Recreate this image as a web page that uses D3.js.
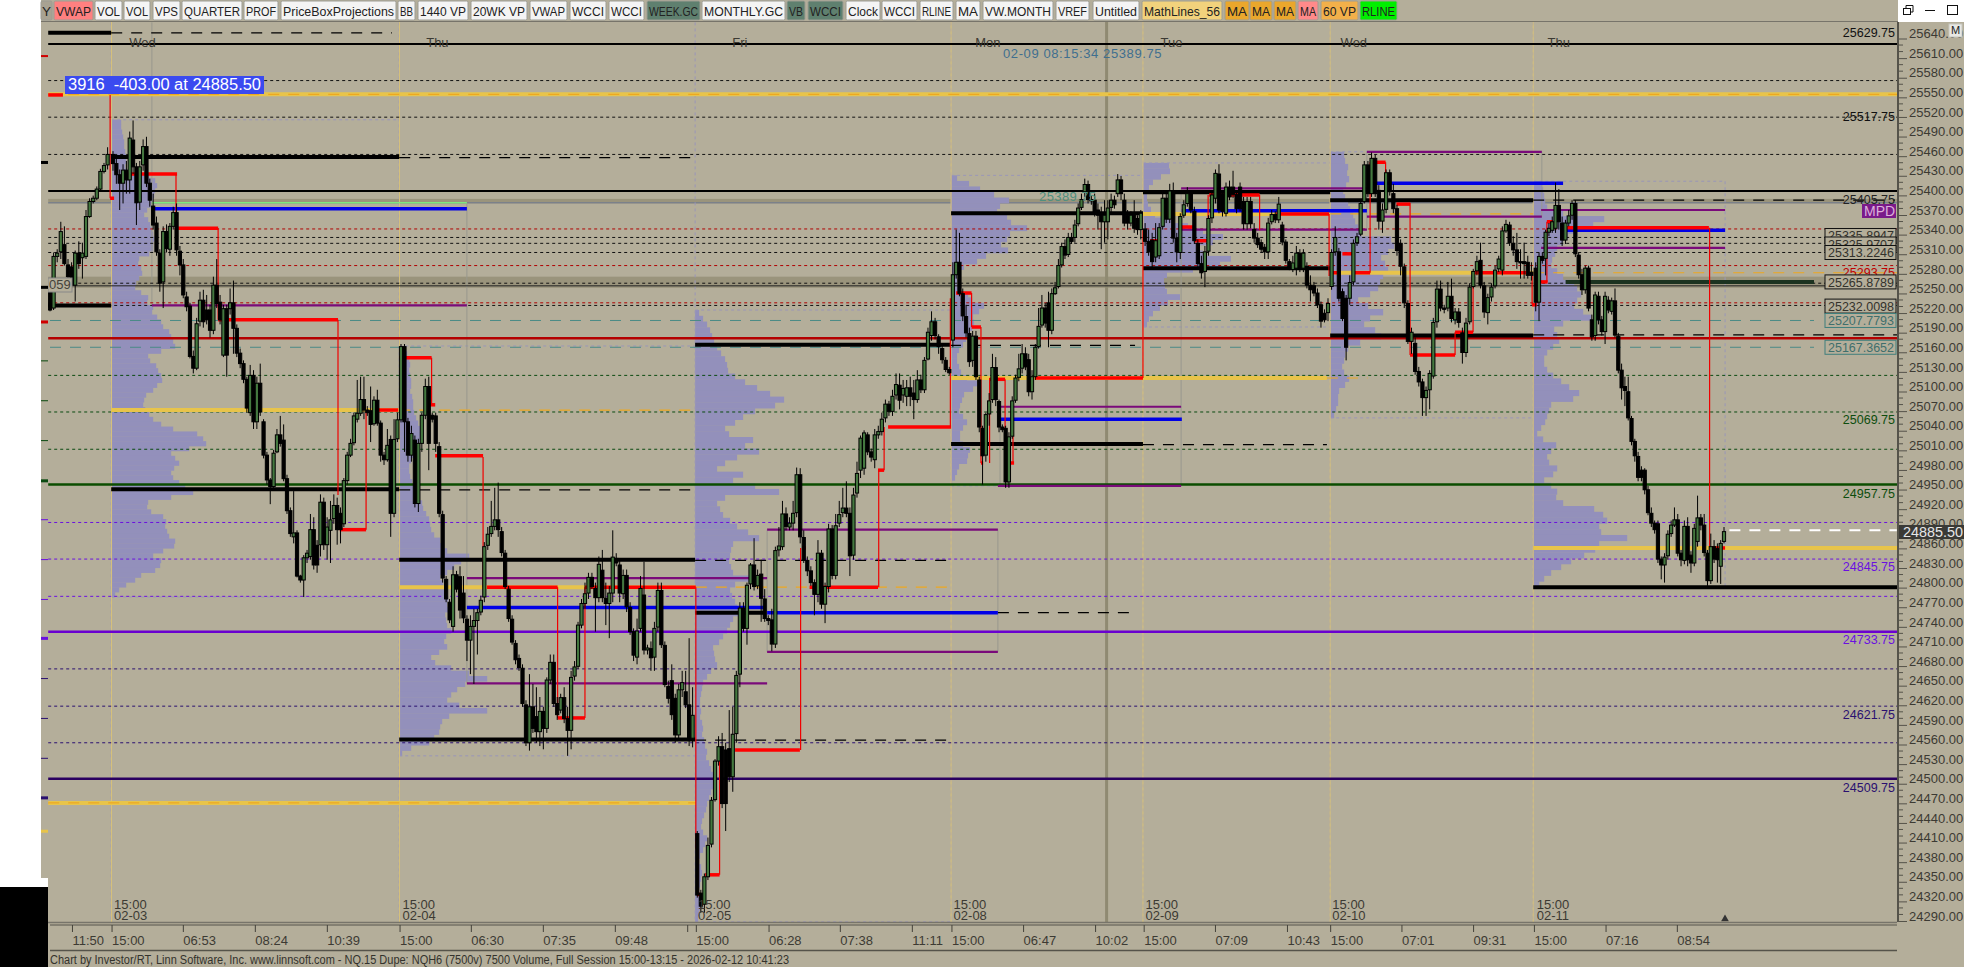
<!DOCTYPE html>
<html><head><meta charset="utf-8">
<script src="https://cdn.jsdelivr.net/npm/d3@7/dist/d3.min.js"></script>
<style>html,body{margin:0;padding:0;background:#fff;overflow:hidden}svg{display:block;font-family:"Liberation Sans",Arial,sans-serif}</style>
</head><body><svg id="c" width="1964" height="967"></svg>
<script>
// ---------- candles: [open, close, high, low], one list per session ----------
const preSession=[[25258,25217,25265,25215],[25220,25299,25305,25217],[25299,25304,25310,25290],[25306,25337,25352,25295],[25317,25288,25345,25285],[25286,25268,25295,25260],[25283,25255,25290,25250],[25255,25304,25308,25230],[25304,25288,25322,25280],[25297,25304,25320,25265],[25299,25360,25370,25295],[25360,25383,25388,25358],[25383,25388,25392,25380],[25388,25402,25406,25385],[25402,25429,25433,25400],[25429,25438,25442,25426],[25439,25455,25466,25432]];
const session0203=[[25455,25441,25460,25430],[25441,25424,25448,25410],[25424,25411,25432,25370],[25411,25431,25440,25380],[25431,25416,25445,25395],[25416,25480,25490,25395],[25477,25436,25507,25425],[25436,25381,25442,25347],[25382,25436,25445,25370],[25439,25467,25478,25430],[25467,25411,25482,25405],[25411,25385,25418,25375],[25376,25347,25395,25340],[25350,25306,25360,25300],[25304,25258,25310,25245],[25260,25337,25345,25220],[25337,25311,25348,25305],[25310,25345,25350,25300],[25345,25366,25375,25340],[25366,25309,25380,25300],[25307,25286,25315,25270],[25286,25240,25295,25235],[25237,25222,25245,25215],[25223,25146,25228,25143],[25146,25128,25155,25120],[25128,25196,25205,25125],[25200,25232,25245,25192],[25232,25199,25248,25190],[25217,25202,25240,25195],[25217,25186,25225,25175],[25186,25255,25268,25180],[25255,25227,25295,25220],[25229,25202,25240,25195],[25148,25219,25225,25145],[25219,25148,25225,25115],[25219,25228,25250,25210],[25228,25189,25262,25150],[25189,25151,25195,25145],[25151,25135,25158,25128],[25135,25111,25140,25105],[25111,25067,25115,25060],[25060,25117,25133,25055],[25117,25046,25125,25035],[25046,25105,25115,25035],[25105,25061,25135,25055],[25046,24995,25050,24990],[24995,24957,25000,24950],[24957,24947,24960,24920],[24947,24998,25003,24945],[25000,25026,25035,24998],[25026,25013,25055,25008],[25018,24959,25042,24955],[24959,24910,24965,24905],[24910,24875,24915,24870],[24870,24876,24940,24860],[24876,24810,24880,24808],[24810,24804,24812,24800],[24804,24838,24842,24778],[24838,24845,24850,24830],[24840,24881,24905,24835],[24881,24827,24900,24820],[24857,24827,24865,24815],[24858,24923,24935,24840],[24923,24858,24930,24850],[24858,24885,24900,24835],[24880,24896,24925,24830],[24898,24918,24935,24890],[24918,24881,24930,24858],[24906,24881,24915,24860],[24890,24956,24960,24885],[24956,24995,25000,24950],[24995,25013,25020,24992],[25014,25055,25060,25010],[25050,25059,25110,25045],[25059,25080,25115,25055],[25080,25064,25115,25050],[25064,25060,25070,25055],[25063,25042,25100,25015],[25043,25079,25085,25040],[25079,25044,25095,25040],[25044,24995,25048,24985],[24995,24988,25000,24980],[24988,25010,25035,24985],[25019,24906,25025,24870],[24906,25019,25050,24900],[25020,25049,25060,25015]];
const session0204=[[25049,25161,25165,25045],[25161,25046,25165,25000],[25046,24995,25052,24985],[24995,25028,25040,24985],[25018,24921,25025,24915],[24921,25013,25020,24908],[25013,25056,25060,25000],[25056,25100,25112,25050],[25100,25013,25115,24972],[25056,25050,25060,25045],[25055,25013,25060,25000],[25008,24906,25015,24900],[24904,24807,24910,24800],[24805,24775,24810,24770],[24770,24743,24775,24738],[24733,24812,24825,24725],[24812,24790,24818,24785],[24809,24758,24825,24745],[24784,24746,24810,24738],[24744,24712,24750,24680],[24712,24733,24750,24660],[24733,24742,24760,24645],[24742,24754,24760,24690],[24755,24773,24780,24750],[24778,24855,24862,24770],[24857,24874,24885,24850],[24875,24886,24925,24870],[24886,24896,24945,24880],[24896,24881,24953,24870],[24878,24846,24885,24840],[24845,24794,24850,24790],[24790,24745,24795,24740],[24744,24709,24750,24705],[24707,24682,24712,24675],[24684,24670,24690,24665],[24669,24615,24675,24610],[24613,24555,24620,24550],[24555,24610,24660,24543],[24610,24577,24645,24570],[24595,24572,24640,24555],[24572,24603,24625,24550],[24603,24577,24610,24545],[24577,24651,24655,24570],[24651,24678,24690,24645],[24678,24615,24690,24610],[24615,24598,24625,24590],[24605,24624,24630,24600],[24624,24592,24640,24585],[24592,24574,24610,24535],[24574,24655,24665,24545],[24657,24671,24680,24650],[24672,24735,24740,24668],[24735,24768,24775,24730],[24768,24783,24800,24760],[24784,24808,24815,24775],[24808,24794,24815,24790],[24791,24777,24800,24725],[24777,24828,24840,24770],[24819,24777,24850,24770],[24776,24768,24800,24735],[24768,24784,24795,24715],[24784,24839,24880,24770],[24837,24830,24845,24825],[24827,24784,24835,24770],[24783,24811,24820,24775],[24811,24763,24820,24755],[24762,24725,24770,24720],[24725,24689,24730,24680],[24686,24726,24745,24675],[24730,24791,24810,24725],[24781,24697,24832,24690],[24697,24700,24705,24690],[24699,24685,24710,24665],[24686,24730,24740,24665],[24732,24788,24800,24725],[24788,24705,24800,24700],[24704,24644,24710,24640],[24641,24623,24650,24615],[24650,24598,24675,24590],[24623,24567,24630,24555],[24567,24636,24645,24560],[24636,24647,24665,24625],[24633,24613,24665,24608],[24613,24562,24715,24550],[24562,24597,24640,24548]];
const session0205=[[24416,24322,24420,24318],[24325,24305,24330,24295],[24308,24350,24355,24295],[24350,24398,24410,24345],[24400,24467,24472,24395],[24468,24527,24530,24465],[24527,24549,24565,24520],[24549,24462,24570,24455],[24544,24462,24555,24420],[24546,24503,24605,24495],[24503,24568,24610,24480],[24569,24658,24665,24555],[24660,24761,24770,24640],[24761,24730,24770,24725],[24730,24796,24800,24705],[24798,24827,24830,24790],[24827,24794,24868,24788],[24795,24811,24820,24790],[24813,24776,24835,24740],[24775,24745,24790,24740],[24745,24742,24750,24735],[24743,24706,24760,24695],[24706,24849,24855,24700],[24850,24856,24885,24840],[24855,24905,24925,24850],[24905,24886,24915,24880],[24885,24891,24900,24880],[24891,24906,24925,24880],[24907,24965,24976,24900],[24965,24870,24975,24860],[24869,24834,24880,24830],[24834,24818,24840,24810],[24818,24800,24825,24795],[24800,24782,24805,24750],[24782,24845,24865,24770],[24845,24767,24850,24760],[24767,24794,24800,24738],[24794,24882,24890,24785],[24882,24811,24888,24805],[24811,24887,24905,24805],[24891,24904,24925,24885],[24907,24914,24945,24900],[24914,24906,24955,24900],[24906,24841,24915,24810],[24842,24934,24945,24835],[24937,24967,24985,24930],[24972,25021,25025,24960],[24975,25029,25033,24965],[25026,25000,25030,24995],[25000,24992,25005,24985],[24988,25026,25035,24975],[25026,25031,25040,25020],[25031,25050,25060,25025],[25052,25073,25080,25045],[25073,25062,25078,25055],[25062,25085,25095,25055],[25087,25103,25120,25080],[25102,25079,25120,25065],[25087,25097,25110,25075],[25085,25098,25110,25070],[25098,25085,25115,25070],[25090,25080,25110,25050],[25080,25110,25125,25075],[25110,25095,25118,25090],[25095,25140,25145,25090],[25142,25183,25190,25140],[25178,25199,25215,25170],[25199,25178,25205,25172],[25176,25161,25180,25150],[25158,25141,25165,25135],[25140,25126,25145,25122],[25126,25121,25130,25118]];
const session0208=[[25171,25271,25290,25160],[25271,25290,25340,25265],[25290,25242,25335,25238],[25242,25208,25250,25200],[25207,25182,25225,25175],[25181,25138,25190,25130],[25140,25177,25185,25130],[25177,25115,25185,25110],[25110,25038,25115,25030],[25036,24994,25040,24950],[24995,25057,25060,24985],[25058,25078,25090,25040],[25080,25129,25150,25075],[25129,25080,25145,25070],[25077,25038,25080,25030],[25038,25034,25042,25030],[25036,24954,25040,24945],[24954,25023,25030,24945],[25024,25078,25085,25020],[25079,25113,25118,25075],[25114,25127,25150,25108],[25128,25150,25165,25120],[25150,25130,25160,25125],[25141,25092,25150,25085],[25092,25115,25125,25080],[25115,25160,25165,25110],[25161,25192,25220,25158],[25194,25220,25240,25190],[25220,25197,25228,25190],[25228,25186,25245,25160],[25186,25242,25250,25180],[25242,25251,25260,25240],[25253,25285,25295,25250],[25286,25314,25320,25282],[25314,25301,25325,25295],[25302,25328,25335,25298],[25328,25322,25335,25318],[25328,25347,25355,25320],[25349,25373,25380,25345],[25374,25386,25395,25370],[25398,25409,25418,25390],[25409,25386,25415,25380],[25386,25384,25392,25378],[25385,25367,25395,25360],[25370,25362,25380,25340],[25365,25352,25375,25310],[25352,25362,25385,25320],[25352,25373,25385,25325],[25374,25385,25395,25365],[25385,25378,25392,25372],[25395,25416,25425,25390],[25416,25395,25422,25385],[25385,25350,25395,25345],[25362,25350,25370,25340],[25350,25362,25368,25345],[25365,25342,25385,25335],[25357,25340,25362,25332],[25340,25365,25370,25325]];
const session0209=[[25341,25322,25350,25315],[25322,25306,25340,25300],[25324,25291,25335,25282],[25298,25323,25350,25290],[25300,25343,25350,25295],[25345,25388,25395,25340],[25388,25356,25395,25350],[25356,25399,25410,25350],[25398,25327,25412,25320],[25327,25306,25335,25290],[25305,25360,25365,25295],[25362,25378,25385,25358],[25380,25395,25405,25375],[25395,25370,25400,25365],[25368,25323,25375,25318],[25319,25288,25325,25280],[25288,25274,25300,25265],[25276,25306,25315,25252],[25307,25357,25362,25300],[25358,25393,25400,25350],[25388,25426,25432,25380],[25425,25370,25440,25365],[25395,25368,25400,25360],[25365,25405,25412,25360],[25405,25390,25415,25385],[25405,25394,25430,25388],[25394,25372,25400,25365],[25405,25372,25412,25368],[25383,25349,25390,25340],[25349,25383,25390,25340],[25383,25349,25390,25342],[25340,25327,25350,25320],[25327,25317,25335,25312],[25320,25310,25325,25305],[25313,25306,25318,25295],[25306,25350,25358,25295],[25352,25363,25370,25348],[25363,25355,25368,25350],[25355,25379,25390,25350],[25347,25321,25352,25316],[25321,25293,25325,25288],[25291,25283,25295,25278],[25279,25289,25300,25275],[25281,25304,25315,25270],[25304,25281,25310,25275],[25281,25304,25310,25275],[25284,25255,25290,25250],[25255,25248,25270,25230],[25254,25243,25260,25238],[25243,25225,25250,25220],[25225,25200,25230,25190],[25212,25202,25218,25198],[25213,25227,25235,25200]];
const session0210=[[25253,25305,25310,25248],[25306,25328,25345,25300],[25306,25235,25312,25230],[25245,25204,25250,25200],[25235,25160,25240,25140],[25235,25259,25270,25225],[25260,25319,25325,25255],[25320,25329,25335,25315],[25333,25380,25385,25330],[25383,25439,25445,25380],[25439,25395,25445,25390],[25395,25449,25458,25390],[25449,25395,25455,25390],[25400,25353,25408,25340],[25353,25370,25380,25335],[25371,25427,25432,25365],[25427,25398,25432,25392],[25395,25372,25410,25365],[25372,25308,25378,25300],[25319,25284,25325,25270],[25283,25228,25288,25220],[25227,25169,25232,25165],[25169,25183,25190,25150],[25166,25123,25175,25118],[25123,25107,25130,25100],[25107,25083,25112,25055],[25083,25094,25100,25055],[25095,25120,25125,25065],[25116,25198,25205,25112],[25199,25249,25262,25190],[25249,25220,25262,25215],[25220,25218,25225,25212],[25220,25238,25260,25215],[25238,25204,25265,25198],[25202,25214,25220,25195],[25214,25198,25220,25190],[25182,25152,25190,25135],[25152,25197,25205,25145],[25199,25252,25258,25195],[25253,25276,25280,25250],[25277,25291,25300,25270],[25293,25255,25320,25250],[25254,25214,25260,25205],[25213,25236,25242,25195],[25237,25252,25258,25230],[25254,25278,25285,25250],[25280,25295,25300,25275],[25278,25338,25345,25270],[25338,25348,25355,25335],[25347,25320,25352,25315],[25319,25309,25330,25300],[25309,25291,25335,25280],[25291,25289,25310,25265],[25291,25288,25320,25265],[25290,25270,25300,25265],[25275,25270,25290,25262]];
const session0211=[[25281,25229,25290,25215],[25229,25299,25305,25200],[25299,25293,25305,25288],[25296,25336,25340,25270],[25336,25342,25350,25330],[25339,25352,25360,25335],[25342,25377,25412,25335],[25377,25352,25402,25340],[25350,25324,25360,25315],[25324,25350,25355,25318],[25350,25361,25370,25345],[25362,25380,25385,25355],[25380,25303,25385,25298],[25301,25271,25305,25265],[25271,25248,25280,25240],[25248,25281,25285,25242],[25281,25220,25285,25215],[25202,25176,25210,25170],[25178,25240,25245,25170],[25238,25202,25245,25195],[25202,25184,25208,25178],[25184,25238,25245,25165],[25232,25217,25238,25212],[25215,25231,25236,25210],[25231,25179,25250,25175],[25177,25125,25182,25120],[25125,25098,25135,25080],[25100,25094,25115,25070],[25092,25052,25115,25048],[25051,25016,25055,25010],[25016,24994,25020,24985],[24993,24961,25000,24955],[24972,24961,24978,24955],[24972,24942,24975,24935],[24942,24907,24948,24903],[24906,24891,24915,24885],[24891,24881,24895,24875],[24890,24836,24895,24830],[24836,24827,24840,24805],[24827,24839,24845,24800],[24841,24874,24880,24835],[24875,24888,24895,24870],[24888,24896,24915,24885],[24896,24845,24905,24840],[24845,24835,24850,24825],[24834,24886,24895,24828],[24886,24835,24900,24825],[24842,24830,24848,24815],[24830,24883,24890,24825],[24863,24899,24933,24855],[24899,24888,24905,24880],[24888,24846,24905,24840],[24845,24803,24850,24795],[24803,24855,24875,24798],[24855,24836,24865,24830],[24852,24835,24860,24800],[24825,24860,24865,24798],[24863,24878,24885,24860]];
const candleSessions=[preSession,session0203,session0204,session0205,session0208,session0209,session0210,session0211];
const sessionBarSpans=[[0,16],[17.5,96.5],[97.5,178.5],[179.8,249.8],[250.8,303],[304.2,355],[356,411.5],[412.7,465]];

// ---------- session volume profiles, top price to bottom price ----------
const profileSessions=[17,97,179.2,250.3,303.6,355.6,412];
const profileRanges=[[25508,24778],[25162,24535],[25217,24281],[25423,24948],[25442,25191],[25459,25052],[25414,24793]];
const profile0203=[10,10,11,12,13,13,14,15,15,14,16,38,44,46,44,43,42,40,36,33,37,39,41,42,43,42,42,38,28,27,30,31,28,25,24,30,37,36,42,41,46,50,52,58,60,62,64,50,37,39,45,47,50,51,46,42,35,33,32,34,38,42,50,62,86,92,95,78,60,64,68,63,60,62,68,74,82,60,37,36,40,52,55,54,56,58,64,63,52,42,50,49,44,30,24,15,8,4];
const profile0204=[5,8,10,11,10,11,12,12,11,13,14,14,15,17,19,21,23,22,20,17,15,12,10,10,11,13,15,16,19,23,24,27,30,31,32,35,41,44,48,70,62,55,48,41,44,48,47,49,48,50,46,47,48,52,47,45,48,40,32,36,52,70,88,66,58,52,48,60,88,50,43,41,40,35,30,12,3];
const profile0205=[4,8,12,15,17,19,22,26,30,32,33,40,50,62,75,89,80,60,48,40,30,34,58,50,64,42,30,22,48,38,60,84,30,22,25,28,35,42,53,64,38,36,35,34,36,38,62,40,35,37,40,42,44,38,35,32,28,24,18,19,20,22,16,12,8,7,6,5,5,6,5,7,8,7,9,10,12,11,14,16,18,20,19,16,14,12,11,9,7,6,8,12,10,8,5,4,6,7,6,5,4,5,6,5,4,3];
const profile0208=[6,18,29,43,58,49,46,56,60,76,59,56,50,57,35,26,13,6,6,6,10,17,21,33,28,22,23,21,19,15,12,8,6,6,8,10,16,26,22,13,11,9,8,12,16,12,9,9,12,19,17,16,8,6,4,1];
const profile0209=[26,27,18,10,6,4,4,5,8,12,30,45,60,80,70,53,60,88,77,50,24,21,22,24,37,25,17,10,6,4];
const profile0210=[14,15,18,17,19,16,13,15,18,20,23,25,28,31,61,64,58,51,55,58,53,50,48,40,28,38,53,40,34,45,51,30,18,15,14,12,14,19,15,9,8,8,6,4];
const profile0211=[9,10,11,12,14,30,71,60,41,35,30,24,22,19,18,24,30,41,44,48,44,41,50,58,30,21,24,26,20,14,11,11,14,20,28,36,46,40,18,16,14,12,8,4,10,23,18,14,16,24,20,11,18,24,23,30,61,70,74,66,68,94,66,62,51,38,28,18,11,6];
const profiles=[profile0203,profile0204,profile0205,profile0208,profile0209,profile0210,profile0211];

// ---------- price levels ----------
const blackSolidLevels=[25624,25399];
const blackDottedLevels=[25568,25512,25455,25328,25319,25305,25258,25224];
const redDottedLevels=[25341,25285,25228];
const tealDashedLevels=[25201,25160];
const greenDottedLevels=[25117,25061,25004];
const violetDottedLevels=[24892,24836,24779];
const indigoDottedLevels=[24668,24611,24555];
// [from bar, to bar, price]
const pocThick=[[-0.5,17,25641],[17,97,25451],[-0.5,17,25224],[17,97,24943],[97,179.2,24835],[97,179.2,24560],[179.2,198.6,24754],[179.2,250,25164],[250.3,303.6,25365],[250.3,303.6,25012],[303.6,355.6,25281],[303.6,355.6,25397],[355.6,412,25385],[355.6,412,25178],[412,513.3,24793]];
const pocDashed=[[17,95,25641],[97,179,25450],[97,179.2,24942],[179.2,250,24834],[179.2,250,24559],[263.3,301.4,24754],[250,301.4,25163],[303.6,354.7,25011],[412,512.5,25385],[412,513.3,25179]];
const yellowBands=[[-0.5,513.3,25547],[-0.5,179.4,24463],[17,97,25064],[97,179.4,24793],[250.3,354.7,25113],[303.6,355.6,25364],[355.6,412,25274],[412,513.3,24853]];
const orangeDashes=[[-0.5,513.3,25547],[-0.5,179.4,24463],[97,179.2,25064],[179.4,250,24793],[354.7,366,25113],[355.6,412,25364],[412,513.3,25274]];
const purpleLevels=[[28.3,115.8,25224],[115.8,199.2,24807],[115.8,199.2,24646],[199.2,263.3,24881],[199.2,263.3,24694],[263.9,314.2,25069],[263.3,314.2,24948],[314.2,365.8,25403],[314.2,365.8,25340],[365.8,414.4,25459],[365.8,414.4,25360],[414.2,465.3,25370],[414.2,465.3,25312]];
const blueLevels=[[28.3,115.8,25372],[115.8,198.6,24762],[199.2,263.3,24754],[263.9,314.4,25050],[314.4,365.8,25369],[365.8,420.3,25411],[419.7,465.3,25339]];
const redThick=[[-0.5,3.6,25546],[16.7,17.8,25388],[21.7,35.3,25425],[35.6,46.7,25342],[46.7,80,25202],[80.5,87.8,24881],[90.5,96.7,25064],[97,106,25144],[105.6,107,25072],[107,120.3,24994],[121.4,141,24793],[141,148.6,24593],[148.6,179.4,24793],[179.4,180,24393],[179.7,180.8,24323],[182,186,24353],[190.3,208.3,24544],[208.9,210,24853],[211,230,24793],[230,231.7,24972],[232.8,250.3,25038],[251.7,256,25243],[256,258.6,25191],[258.6,259.2,24983],[261,265.3,25111],[266.4,267.8,24983],[273.6,303.6,25113],[305.6,308.3,25323],[314.2,317.5,25344],[317.8,321.7,25323],[322,336,25393],[340.6,355.3,25364],[355.6,357.5,25274],[359,362,25303],[362,366.7,25274],[366.7,371,25443],[374,377.8,25379],[377.8,390.3,25148],[390.3,395.3,25183],[395.3,410,25274],[411.7,413,25225],[414,416,25260],[415.8,417.5,25352],[420,460.8,25343],[461.7,465.3,24853]];
// [bar, price, price]
const redDrops=[[16.7,25546,25388],[35,25425,25342],[46.7,25342,25202],[80,25202,24934],[87.8,25064,24881],[106,25144,25072],[120.3,24992,24793],[141,24793,24593],[148.6,24793,24593],[179.4,24793,24393],[180,24393,24323],[186,24353,24544],[208.5,24544,24853],[230.2,24793,24972],[231.7,24972,25038],[250.1,25038,25235],[256,25243,25191],[258.6,25191,24983],[261,25113,24983],[265.3,25111,25033],[267.5,25033,24983],[303.6,25113,25339],[321.7,25323,25393],[336,25393,25339],[355.3,25364,25269],[362,25303,25274],[366.7,25274,25443],[371,25443,25381],[377.8,25381,25148],[390.3,25183,25148],[395.3,25274,25183],[411.7,25274,25225],[415.8,25352,25260],[461,25343,24855]];
const boxEdges=[[28.3,25657,25224],[115.8,25381,24646],[199.2,24881,24694],[263.3,24881,24694],[263.9,25069,24948],[314.2,25403,24948],[365.8,25459,25340],[414.4,25459,25360]];
const sessionLines=[17.1,97.1,250.3,303.6,355.6,412];

// ---------- texts ----------
const priceTicks=d3.range(25640,24289,-30);
const timeBars=[6.1,17.1,36.9,56.9,76.9,97.1,116.9,136.9,156.9,177,179.4,199.6,219.4,239.4,250.4,270.3,290.3,303.8,323.6,343.6,355.6,375.4,395.3,412.2,432.1,451.9];
const timeLabels=["11:50","15:00","06:53","08:24","10:39","15:00","06:30","07:35","09:48","","15:00","06:28","07:38","11:11","15:00","06:47","10:02","15:00","07:09","10:43","15:00","07:01","09:31","15:00","07:16","08:54"];
const dayNames=["Wed","Thu","Fri","Mon","Tue","Wed","Thu"];
const dayBars=[22,104.5,189.5,257,308.5,358.5,416];
const dateBars=[17.8,97.9,180,251,304.3,356.2,413];
const dateNames=["02-03","02-04","02-05","02-08","02-09","02-10","02-11"];
const toolbarNames=["Y","VWAP","VOL","VOL","VPS","QUARTER","PROF","PriceBoxProjections","BB","1440 VP","20WK VP","VWAP","WCCI","WCCI","WEEK.GC","MONTHLY.GC","VB","WCCI","Clock","WCCI","RLINE","MA","VW.MONTH","VREF","Untitled","MathLines_56","MA","MA","MA","MA","60 VP","RLINE"];
const toolbarEdges=[[41,52],[54,93],[95,122],[124,150],[153,180],[182,242],[244,278],[281,396],[398,415],[418,468],[471,527],[530,567],[570,606],[609,644],[647,700],[702,785],[787,805],[808,843],[846,880],[882,917],[920,953],[956,980],[983,1053],[1056,1089],[1093,1139],[1142,1222],[1225,1249],[1250,1272],[1274,1296],[1298,1318],[1321,1358],[1360,1397]];
const toolbarFills=["#a8a292","#ff8080","#f4f4f4","#f4f4f4","#f4f4f4","#f4f4f4","#f4f4f4","#f4f4f4","#f4f4f4","#f4f4f4","#f4f4f4","#f4f4f4","#f4f4f4","#f4f4f4","#5f806f","#f4f4f4","#5f806f","#5f806f","#f4f4f4","#f4f4f4","#f4f4f4","#f4f4f4","#f4f4f4","#f4f4f4","#f4f4f4","#f2d27c","#eaa72c","#eaa72c","#eaa72c","#ff8a8a","#f2b04a","#00ee00"];
const plainLevelLabels=[["25629.75",25641,"#111"],["25517.75",25513,"#111"],["25405.75",25385,"#222"],["25293.75",25274,"#c00000"],["25069.75",25048,"#0d4d0d"],["24957.75",24936,"#0d4d0d"],["24845.75",24824,"#6a10e0"],["24733.75",24712,"#6a10e0"],["24621.75",24598,"#2a1070"],["24509.75",24486,"#2a1070"]];
const boxedLevelLabels=[["25335.8947",25331,"#111"],["25325.9707",25318,"#111"],["25313.2246",25305,"#111"],["25265.8789",25260,"#111"],["25232.0098",25223,"#111"],["25207.7793",25201,"#3f7f7c"],["25167.3652",25160,"#3f7f7c"]];

// ---------- scales ----------
const x=d3.scaleLinear().domain([0,465]).range([50,1724]);
const y=d3.scaleLinear().domain([25640,24290]).range([33.5,916]);
const svg=d3.select("#c");
const BG="#b4ae9a";
svg.append("rect").attr("width",1964).attr("height",967).attr("fill","#fff");
svg.append("rect").attr("x",41).attr("y",0).attr("width",1923).attr("height",878).attr("fill",BG);
svg.append("rect").attr("x",48).attr("y",878).attr("width",1916).attr("height",89).attr("fill",BG);
svg.append("rect").attr("x",0).attr("y",887).attr("width",48).attr("height",80).attr("fill","#000");
svg.append("defs").append("clipPath").attr("id","plot").append("rect").attr("x",48).attr("y",22).attr("width",1850).attr("height",900);

// left strip remnants of the neighbouring window
const stripMarks=[[25607,"#d00000",2],[25445,"#000",3],[25254,"#000",3],[25201,"#d00000",3],[25140,"#0a4a10",1],[25079,"#0a4a10",1],[25018,"#0a4a10",1],[24958,"#0a4a10",3],[24897,"#6a10e0",1],[24836,"#6a10e0",1],[24775,"#6a10e0",1],[24717,"#6a10e0",3],[24654,"#2a1070",1],[24593,"#2a1070",1],[24532,"#2a1070",1],[24473,"#2a1070",3],[24422,"#e8c44a",3]];
svg.append("g").selectAll("rect").data(stripMarks).join("rect").attr("x",41).attr("width",7).attr("y",d=>y(d[0])).attr("height",d=>d[2]).attr("fill",d=>d[1]);

const g=svg.append("g").attr("clip-path","url(#plot)");
const X0=-0.5,X1=513.3;
function hline(parent,rows,color,w,dash){
  parent.append("g").selectAll("line").data(rows).join("line")
    .attr("x1",d=>x(d[0])).attr("x2",d=>x(d[1])).attr("y1",d=>y(d[2])).attr("y2",d=>y(d[2]))
    .attr("stroke",color).attr("stroke-width",w).attr("stroke-dasharray",dash||null);
}
const full=a=>a.map(p=>[X0,X1,p]);

// olive bands
[[25387,25380],[25268,25251]].forEach(b=>g.append("rect").attr("x",x(X0)).attr("width",x(X1)-x(X0)).attr("y",y(b[0])).attr("height",y(b[1])-y(b[0])).attr("fill","#9a947c"));
hline(g,full([25381]),"#6e7a90",1);

// profiles
profiles.forEach((vals,k)=>{
  const [top,bot]=profileRanges[k];
  const band=d3.scaleBand().domain(d3.range(vals.length)).range([y(top),y(bot)]);
  const vol=d3.scaleLinear().domain([0,100]).range([x(profileSessions[k]),x(profileSessions[k])+100]);
  g.append("g").selectAll("rect").data(vals).join("rect")
    .attr("x",vol(0)).attr("y",(d,i)=>band(i)).attr("width",d=>vol(d)-vol(0)).attr("height",band.bandwidth()+0.3).attr("fill","#9390bb");
  const nextBar=k<6?profileSessions[k+1]:465.3;
  hline(g,[[profileSessions[k],nextBar,top],[profileSessions[k],nextBar,bot]],"#9a96b8",1,"3,3");
  g.append("line").attr("x1",vol(0)).attr("x2",vol(0)).attr("y1",y(25657)).attr("y2",y(24281)).attr("stroke","#9a96b8").attr("stroke-dasharray","3,3");
});
g.append("line").attr("x1",x(465.3)).attr("x2",x(465.3)).attr("y1",y(25414)).attr("y2",y(24793)).attr("stroke","#9a96b8").attr("stroke-dasharray","3,3");

// session and crosshair verticals
g.append("g").selectAll("line").data(sessionLines).join("line").attr("x1",d=>x(d)).attr("x2",d=>x(d)).attr("y1",22).attr("y2",922).attr("stroke","#d8c27a").attr("stroke-width",1);
g.append("line").attr("x1",x(293.5)).attr("x2",x(293.5)).attr("y1",22).attr("y2",922).attr("stroke","#8f8a72").attr("stroke-width",3);
g.append("g").selectAll("line").data(boxEdges).join("line").attr("x1",d=>x(d[0])).attr("x2",d=>x(d[0])).attr("y1",d=>y(d[1])).attr("y2",d=>y(d[2])).attr("stroke","#98988e").attr("stroke-width",1);

// full width levels
hline(g,full(blackDottedLevels),"#111",1,"3,3");
hline(g,full(redDottedLevels),"#b00000",1,"3,3");
hline(g,tealDashedLevels.map(p=>[0,490,p]),"#4a8a86",1,"11,9");
hline(g,full(greenDottedLevels),"#0a4a10",1,"3,3");
hline(g,full(violetDottedLevels),"#6a10e0",1,"3,3");
hline(g,full(indigoDottedLevels),"#2a1070",1,"3,3");
hline(g,full(blackSolidLevels),"#000",2);
hline(g,full([25254]),"#222",1);
hline(g,full([25174]),"#b50000",2.5);
hline(g,full([24950]),"#0b4d00",2.5);
hline(g,full([24725]),"#6a00d0",2.5);
hline(g,full([24500]),"#2a0060",2.5);

// session levels
hline(g,yellowBands,"#e8c44a",4);
hline(g,orangeDashes,"#eda820",1.2,"11,9");
hline(g,[[421,490,25260]],"#1c3320",4);
hline(g,[[28.3,115.8,25381]],"#7fe87f",1.5);
hline(g,purpleLevels,"#7a0a7a",2.2);
hline(g,blueLevels,"#0000e6",3.5);
hline(g,pocThick,"#000",4);
hline(g,pocDashed,"#000",1.2,"11,9");
hline(g,redThick,"#ff0000",3.5);
g.append("g").selectAll("line").data(redDrops).join("line").attr("x1",d=>x(d[0])).attr("x2",d=>x(d[0])).attr("y1",d=>y(d[1])).attr("y2",d=>y(d[2])).attr("stroke","#f00000").attr("stroke-width",1.2);
hline(g,[[466.5,513,24880]],"#fff",2,"11,9");

// candles
candleSessions.forEach((rows,k)=>{
  const bar=d3.scaleLinear().domain([0,rows.length-1]).range(sessionBarSpans[k]);
  const c=g.append("g");
  c.selectAll("line").data(rows).join("line")
    .attr("x1",(d,i)=>x(bar(i))).attr("x2",(d,i)=>x(bar(i))).attr("y1",d=>y(d[2])).attr("y2",d=>y(d[3])).attr("stroke","#000").attr("stroke-width",1);
  c.selectAll("rect").data(rows).join("rect")
    .attr("x",(d,i)=>x(bar(i))-1.6).attr("width",3.2)
    .attr("y",d=>y(Math.max(d[0],d[1]))).attr("height",d=>Math.max(1,Math.abs(y(d[0])-y(d[1]))))
    .attr("fill",d=>d[1]>=d[0]?"#44783f":"#000").attr("stroke","#000").attr("stroke-width",1);
});

// texts on the chart
const t=svg.append("g").attr("clip-path","url(#plot)");
t.selectAll("text.day").data(dayNames).join("text").attr("class","day").attr("x",(d,i)=>x(dayBars[i])).attr("y",47).attr("font-size",13).attr("fill","#3c3a33").text(d=>d);
dateNames.forEach((d,i)=>{
  t.append("text").attr("x",x(dateBars[i])).attr("y",909).attr("font-size",13).attr("fill","#3c3a33").text("15:00");
  t.append("text").attr("x",x(dateBars[i])).attr("y",920).attr("font-size",13).attr("fill","#3c3a33").text(d);
});
t.append("text").attr("x",1003).attr("y",58).attr("font-size",13).attr("fill","#3f6f8f").attr("letter-spacing",0.6).text("02-09 08:15:34  25389.75");
t.append("text").attr("x",1039).attr("y",201).attr("font-size",13).attr("fill","#4f8f7f").attr("letter-spacing",0.4).text("25389.75");
t.append("rect").attr("x",65).attr("y",76).attr("width",199).attr("height",18).attr("fill","#3a4af0");
t.append("text").attr("x",68).attr("y",90).attr("font-size",16).attr("fill","#fff").attr("textLength",193).attr("lengthAdjust","spacingAndGlyphs").attr("xml:space","preserve").text("3916  -403.00 at 24885.50");
t.append("rect").attr("x",48).attr("y",278).attr("width",24).attr("height",14).attr("fill",BG).attr("stroke","#888");
t.append("text").attr("x",49).attr("y",289).attr("font-size",13).attr("fill","#44423a").text("059");

plainLevelLabels.forEach(d=>t.append("text").attr("x",1895).attr("y",y(d[1])+4).attr("text-anchor","end").attr("font-size",12.5).attr("fill",d[2]).text(d[0]));
boxedLevelLabels.forEach(d=>{
  t.append("rect").attr("x",1825).attr("y",y(d[1])-7).attr("width",71).attr("height",14).attr("fill",BG).attr("stroke",d[2]);
  t.append("text").attr("x",1828).attr("y",y(d[1])+5).attr("font-size",13).attr("fill",d[2]==="#111"?"#33322c":"#3f6f6c").attr("textLength",66).attr("lengthAdjust","spacingAndGlyphs").text(d[0]);
});
t.append("rect").attr("x",1862).attr("y",204).attr("width",34).attr("height",14).attr("fill","#7a1a8a");
t.append("text").attr("x",1864).attr("y",216).attr("font-size",14).attr("fill","#dcb0dc").text("MPD");
svg.append("path").attr("d",d3.symbol(d3.symbolTriangle,26)()).attr("transform","translate(1725,919)").attr("fill","#333");

// toolbar
svg.append("rect").attr("x",41).attr("y",0).attr("width",1923).attr("height",21).attr("fill",BG);
svg.append("line").attr("x1",41).attr("x2",1898).attr("y1",21.5).attr("y2",21.5).attr("stroke","#77746a").attr("stroke-width",1);
const tb=svg.append("g").selectAll("g").data(toolbarNames).join("g");
tb.append("rect").attr("x",(d,i)=>toolbarEdges[i][0]).attr("y",1).attr("width",(d,i)=>toolbarEdges[i][1]-toolbarEdges[i][0]).attr("height",19).attr("rx",1.5).attr("fill",(d,i)=>toolbarFills[i]).attr("stroke","#9c9c94");
tb.append("text").attr("x",(d,i)=>(toolbarEdges[i][0]+toolbarEdges[i][1])/2).attr("y",15.5).attr("text-anchor","middle").attr("font-size",13.5).attr("fill","#222").attr("textLength",(d,i)=>i?toolbarEdges[i][1]-toolbarEdges[i][0]-4:null).attr("lengthAdjust","spacingAndGlyphs").text(d=>d);

// window buttons
svg.append("rect").attr("x",1898).attr("y",0).attr("width",66).attr("height",22).attr("fill","#fff");
const wb=svg.append("g").attr("fill","none").attr("stroke","#111").attr("stroke-width",1);
wb.append("rect").attr("x",1903.5).attr("y",8.5).attr("width",7).attr("height",6);
wb.append("path").attr("d","M1906 8V5.5H1913V12H1911");
wb.append("line").attr("x1",1925).attr("x2",1935).attr("y1",10.5).attr("y2",10.5);
wb.append("rect").attr("x",1947.5).attr("y",5.5).attr("width",10).attr("height",9);

// price axis
const yAxis=d3.axisRight(y).tickValues(priceTicks).tickFormat(d3.format(".2f")).tickSize(9).tickPadding(2);
const ay=svg.append("g").attr("transform","translate(1898,0)").call(yAxis);
ay.select(".domain").attr("stroke","#55534a").attr("stroke-width",2).attr("d","M0,22V922");
ay.selectAll(".tick line").attr("stroke","#55534a").attr("transform","translate(0,5)");
ay.selectAll(".tick text").attr("fill","#3c3a33").attr("font-size",13).attr("font-family","Liberation Sans").attr("x",11);
svg.append("g").selectAll("line").data(d3.range(25640,24290,-10).filter((d,i)=>i%3)).join("line")
  .attr("x1",1898).attr("x2",1903).attr("y1",d=>y(d)+5).attr("y2",d=>y(d)+5).attr("stroke","#55534a");
svg.append("rect").attr("x",1949).attr("y",24).attr("width",13).attr("height",13).attr("fill","#e8e8e4").attr("stroke","#c8c8c0");
svg.append("text").attr("x",1951).attr("y",34).attr("font-size",11).attr("fill","#222").text("M");
svg.append("rect").attr("x",1899).attr("y",525).attr("width",65).attr("height",14).attr("fill","#3a3a36");
svg.append("text").attr("x",1903).attr("y",537).attr("font-size",15).attr("fill","#e6e6e6").attr("textLength",60).attr("lengthAdjust","spacingAndGlyphs").text("24885.50");

// time axis
const xAxis=d3.axisBottom(x).tickValues(timeBars).tickFormat((d,i)=>timeLabels[i]).tickSize(7).tickPadding(4);
const ax=svg.append("g").attr("transform","translate(0,925)").call(xAxis);
ax.select(".domain").attr("stroke","#55534a").attr("stroke-width",1).attr("d","M50,0H1897");
ax.selectAll(".tick line").attr("stroke","#44423a");
ax.selectAll(".tick text").attr("fill","#3c3a33").attr("font-size",13).attr("font-family","Liberation Sans").attr("text-anchor","start");
svg.append("line").attr("x1",48).attr("x2",1897).attr("y1",922.5).attr("y2",922.5).attr("stroke","#77746a").attr("stroke-width",1.5);
svg.append("line").attr("x1",50).attr("x2",1897).attr("y1",950.5).attr("y2",950.5).attr("stroke","#55534a").attr("stroke-width",1.5);
svg.append("text").attr("x",50).attr("y",964).attr("font-size",12).attr("fill","#33322c").attr("textLength",739).attr("lengthAdjust","spacingAndGlyphs").text("Chart by Investor/RT, Linn Software, Inc. www.linnsoft.com - NQ.15 Dupe: NQH6 (7500v) 7500 Volume, Full Session 15:00-13:15 - 2026-02-12 10:41:23");
</script></body></html>
